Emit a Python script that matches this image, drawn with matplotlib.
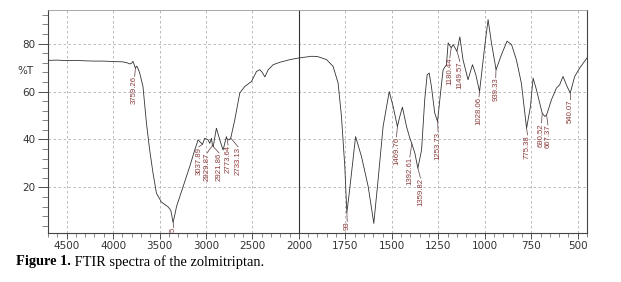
import numpy as np
import matplotlib
matplotlib.use('Agg')
import matplotlib.pyplot as plt
from matplotlib.ticker import FixedLocator

plt.rcParams['font.family'] = ['DejaVu Sans']

# spectrum (wavenumber cm-1, %T)
wavenumber = [4700, 4600, 4500, 4400, 4300, 4200, 4100, 4000, 3900, 3850, 3820, 3800,
              3786, 3770, 3760, 3745, 3730, 3713, 3678, 3641, 3606, 3570, 3533, 3480,
              3408, 3379, 3354, 3330, 3318, 3247, 3175, 3121, 3085, 3049, 3038, 3013,
              2977, 2959, 2941, 2930, 2922, 2888, 2851, 2816, 2780, 2774, 2751, 2733,
              2726, 2690, 2636, 2582, 2510, 2456, 2420, 2395, 2366, 2330, 2277, 2205,
              2097, 2000,
              1932, 1900, 1851, 1816, 1789, 1771, 1753, 1742, 1730, 1717, 1695, 1663,
              1627, 1597, 1574, 1547, 1514, 1493, 1470, 1457, 1443, 1421, 1403, 1393,
              1376, 1360, 1340, 1323, 1310, 1299, 1287, 1269, 1254, 1238, 1224, 1206,
              1197, 1180, 1170, 1150, 1134, 1117, 1090, 1066, 1048, 1028, 1000, 982,
              964, 939, 910, 880, 856, 830, 803, 775, 754, 740, 722, 691, 677, 667,
              641, 614, 597, 579, 557, 540, 516, 489, 450]
transmittance = [73.0, 73.1, 72.9, 73.0, 72.8, 72.7, 72.7, 72.5, 72.4, 72.0, 71.5, 71.8,
                 72.6, 71.0, 69.8, 70.6, 69.5, 67.7, 62.1, 47.0, 35.6, 26.0, 17.6, 13.9,
                 11.9, 10.5, 5.4, 9.5, 11.9, 20.3, 28.7, 35.6, 39.8, 38.4, 38.0, 40.5,
                 39.8, 38.4, 40.5, 37.5, 37.0, 44.7, 39.8, 35.6, 41.2, 40.3, 39.8, 40.6,
                 41.9, 48.2, 59.4, 62.1, 64.2, 68.4, 69.1, 68.0, 66.1, 69.1, 71.2, 72.2,
                 73.3, 74.0,
                 74.7, 74.6, 73.3, 70.5, 63.5, 49.6, 28.7, 9.5, 17.0, 25.9, 41.2, 32.8,
                 20.3, 5.0, 23.1, 45.4, 60.0, 53.8, 45.4, 49.6, 53.5, 45.4, 40.5, 38.4,
                 34.3, 28.0, 35.6, 56.6, 67.0, 67.7, 62.1, 51.0, 47.5, 59.4, 69.1, 71.2,
                 80.3, 78.2, 79.6, 76.8, 82.8, 73.3, 64.9, 71.2, 67.0, 60.0, 78.9, 90.0,
                 80.3, 69.1, 75.4, 81.0, 79.6, 73.3, 63.5, 44.7, 53.8, 65.6, 60.8, 51.0,
                 49.6, 50.3, 56.6, 61.5, 62.8, 66.3, 62.1, 59.4, 66.3, 69.8, 74.0]

# peak labels (the two near the bottom are cut off by the frame, only their ends show)
peak_wn = [3759.26, 3353.5, 3037.89, 2929.87, 2921.86, 2773.64, 2733.13,
           1741.9, 1469.76, 1392.61, 1359.82, 1253.73, 1180.44, 1149.57,
           1028.06, 939.33, 775.38, 690.52, 667.37, 540.07]
peak_text = ['3759.26', '5', '3037.89', '2929.87', '2921.86', '2773.64', '2733.13',
             '93', '1469.76', '1392.61', '1359.82', '1253.73', '1180.44', '1149.57',
             '1028.06', '939.33', '775.38', '690.52', '667.37', '540.07']
# where each label text starts (wavenumber, %T of its top end)
label_pos = [(3767, 66.3), (3347, 3.2), (3078, 36.9), (2988, 34.4), (2859, 34.4),
             (2762, 37.7), (2654, 36.9), (1740, 5.8), (1475, 41.1), (1403, 32.7),
             (1346, 23.9), (1251, 43.2), (1188, 74.1), (1134, 72.5), (1031, 57.8),
             (941, 65.8), (770, 41.9), (695, 46.9), (660, 46.1), (538, 56.6)]

x_major = [4500, 4000, 3500, 3000, 2500, 2000, 1750, 1500, 1250, 1000, 750, 500]
y_major = [20, 40, 60, 80]


# region above 2000 cm-1 drawn at half scale
def fwd(x):
    x = np.asarray(x, dtype=float)
    return np.where(x > 2000, 2000 + (x - 2000) / 2.0, x)


def inv(y):
    y = np.asarray(y, dtype=float)
    return np.where(y > 2000, 2000 + (y - 2000) * 2.0, y)


fig = plt.figure(figsize=(6.21, 2.82), dpi=100)
ax = fig.add_axes([0.0773, 0.1738, 0.8679, 0.7907])
ax.set_xscale('function', functions=(fwd, inv))

ax.plot(wavenumber, transmittance, color='#333333', lw=0.6, zorder=3)

wn_sorted = np.array(wavenumber[::-1], dtype=float)
t_sorted = np.array(transmittance[::-1], dtype=float)
for pk, lab, (lx, ly) in zip(peak_wn, peak_text, label_pos):
    pt = np.interp(pk, wn_sorted, t_sorted)
    ax.plot([pk, lx], [pt, ly], color='#5a3a3a', lw=0.5, zorder=4, clip_on=True)
    ax.text(lx, ly, lab, rotation=90, ha='center', va='top', fontsize=5.6,
            color='#8a3b3b', family='Liberation Sans', clip_on=True, zorder=5)

ax.set_xlim(4700, 450)
ax.set_ylim(1, 94)

ax.xaxis.set_major_locator(FixedLocator(x_major))
ax.xaxis.set_minor_locator(FixedLocator(list(range(4700, 2000, -100)) + list(range(1950, 449, -50))))
ax.yaxis.set_major_locator(FixedLocator(y_major))
ax.yaxis.set_minor_locator(FixedLocator(list(range(4, 94, 4))))

ax.grid(True, which='major', color='#b0b0b0', ls=(0, (3, 3)), lw=0.6)
ax.axvline(2000, color='#333333', lw=0.8, zorder=2)

ax.tick_params(axis='x', which='major', length=4, width=0.6, pad=2, labelsize=7.5, colors='#333333')
ax.tick_params(axis='x', which='minor', length=3, width=0.5, colors='#555555')
ax.tick_params(axis='y', which='major', length=7, width=0.6, pad=2, labelsize=7.5, colors='#333333')
ax.tick_params(axis='y', which='minor', length=4.5, width=0.5, colors='#555555')

for side in ['left', 'bottom', 'right']:
    ax.spines[side].set_color('#444444')
    ax.spines[side].set_linewidth(0.8)
ax.spines['top'].set_color('#999999')
ax.spines['top'].set_linewidth(0.6)

fig.text(25 / 621, 1 - 71 / 282, '%T', fontsize=7.5, ha='center', va='center', color='#333333')

# caption: bold part then normal part
renderer = fig.canvas.get_renderer()
t1 = fig.text(16 / 621, 0.071, 'Figure 1.', fontsize=10.4, fontweight='bold',
              family='Liberation Serif', va='center', ha='left')
bb = t1.get_window_extent(renderer=renderer)
fig.text(bb.x1 / fig.bbox.width, 0.071, ' FTIR spectra of the zolmitriptan.', fontsize=10.4,
         family='Liberation Serif', va='center', ha='left')

fig.savefig('out.png', dpi=100)
